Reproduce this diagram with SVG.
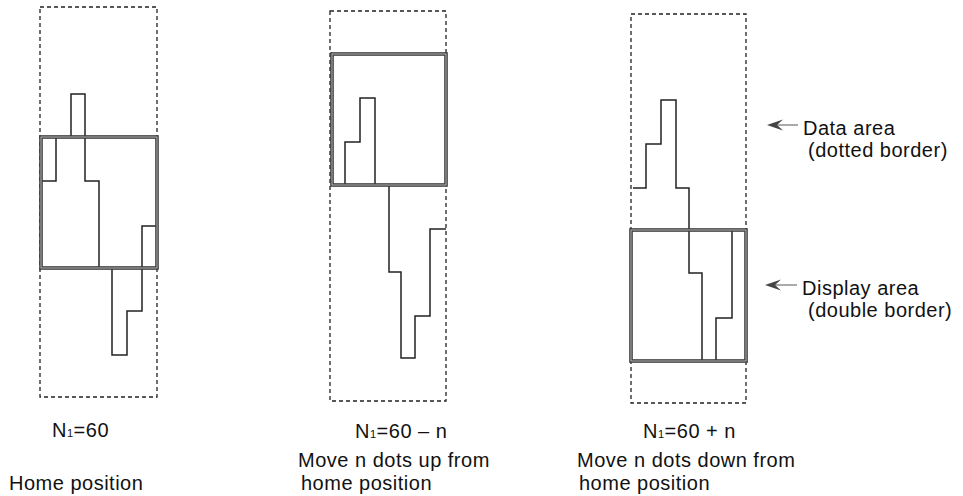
<svg xmlns="http://www.w3.org/2000/svg" width="963" height="496" viewBox="0 0 963 496">
<style>
.data{fill:none;stroke:#222;stroke-width:1.3;stroke-dasharray:4 3}
.dispo{fill:none;stroke:#3a3a3a;stroke-width:3.6}
.dispi{fill:none;stroke:#c8c8c8;stroke-width:0.9}
.shape{fill:none;stroke:#222;stroke-width:1.5;stroke-linejoin:miter}
.t{font-family:"Liberation Sans",Arial,sans-serif;font-size:20px;fill:#111;letter-spacing:0.5px}
.sub{font-size:11px}
.arr{stroke:#555;stroke-width:1;fill:none}
.head{fill:#444}
</style>
<rect width="963" height="496" fill="#fff"/>
<g id="panel-home">
<rect class="data" x="40" y="7" width="117" height="390"/>
<path class="shape" d="M71,137 V94 H85 V181 H99 V268 M41,181 H56 V137 M112,268 V355 H127 V311 H142 V226 H157"/>
<rect class="dispo" x="41" y="137" width="116" height="131"/>
<rect class="dispi" x="41" y="137" width="116" height="131"/>
<text class="t" x="52" y="437">N<tspan class="sub">1</tspan>=60</text>
<text class="t" x="9" y="490">Home position</text>
</g>
<g id="panel-up">
<rect class="data" x="330" y="11" width="116" height="390"/>
<path class="shape" d="M345,185 V142 H360 V98 H375 V185 M389,185 V272 H401 V358 H415 V316 H430 V229 H446"/>
<rect class="dispo" x="332" y="54" width="114" height="131"/>
<rect class="dispi" x="332" y="54" width="114" height="131"/>
<text class="t" x="355" y="438">N<tspan class="sub">1</tspan>=60 – n</text>
<text class="t" x="298" y="467">Move n dots up from</text>
<text class="t" x="301" y="490">home position</text>
</g>
<g id="panel-down">
<rect class="data" x="631" y="14" width="115" height="389"/>
<path class="shape" d="M633,188 H646 V144 H661 V100 H676 V188 H689 V273 H702 V361 M732,230 V318 H716 V361"/>
<rect class="dispo" x="631" y="230" width="115" height="131"/>
<rect class="dispi" x="631" y="230" width="115" height="131"/>
<text class="t" x="643" y="438">N<tspan class="sub">1</tspan>=60 + n</text>
<text class="t" x="577" y="467">Move n dots down from</text>
<text class="t" x="579" y="490">home position</text>
</g>
<g id="label-data">
<text class="t" x="803" y="135">Data area</text>
<text class="t" x="808" y="157">(dotted border)</text>
</g>
<g id="label-display">
<text class="t" x="802" y="295">Display area</text>
<text class="t" x="808" y="317">(double border)</text>
</g>
<g id="connectors">
<line class="arr" x1="798" y1="125" x2="772" y2="125"/>
<path class="head" d="M783,119.5 L767,125 L783,130.5 L777,125 Z"/>
<line class="arr" x1="797" y1="285" x2="770" y2="285"/>
<path class="head" d="M781,279.5 L765,285 L781,290.5 L775,285 Z"/>
</g>
</svg>
